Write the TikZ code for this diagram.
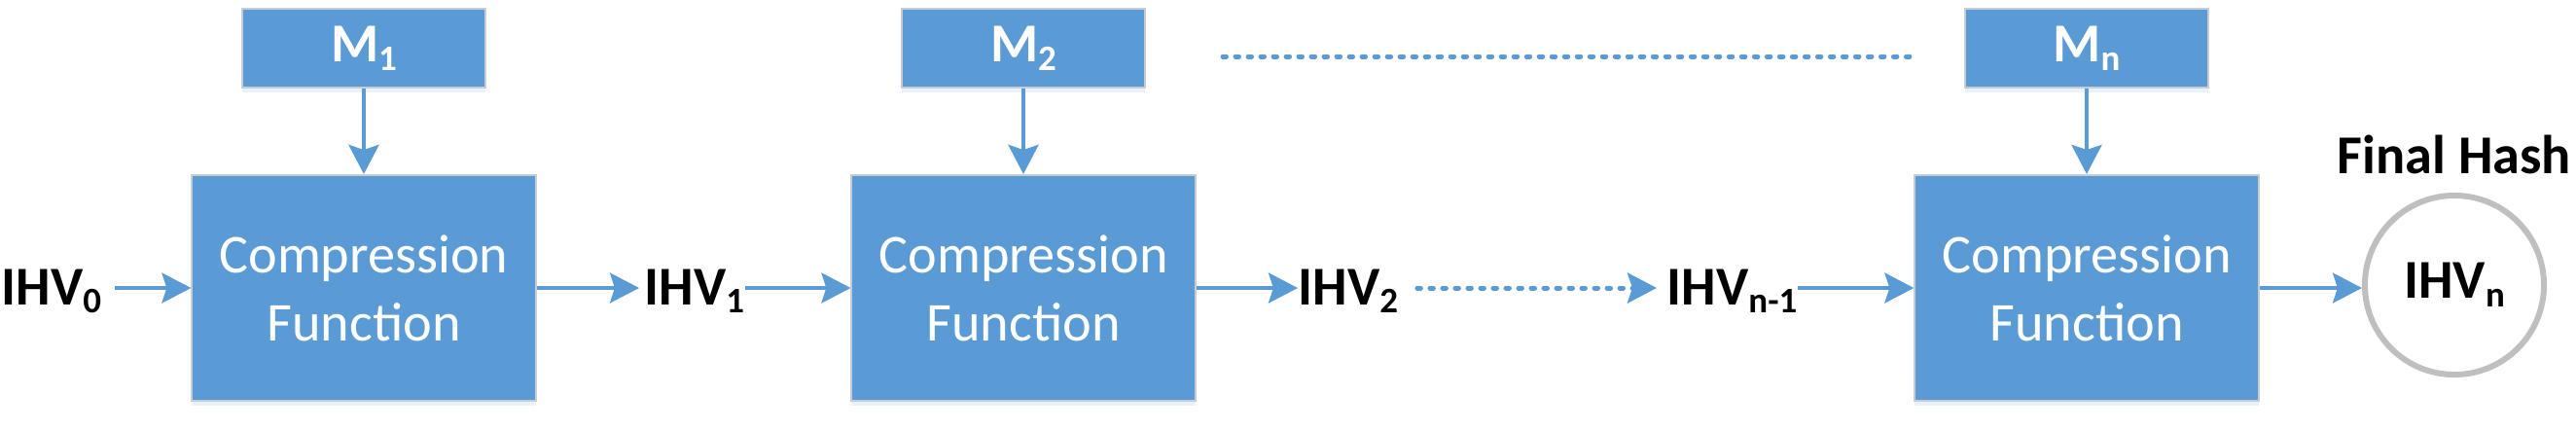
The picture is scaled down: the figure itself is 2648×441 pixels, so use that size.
\documentclass[tikz,border=0pt]{standalone}
\usepackage{fontspec}
\setmainfont{Carlito}
\usetikzlibrary{arrows.meta,shadows}
\definecolor{hashblue}{HTML}{5B9BD5}
\definecolor{boxedge}{HTML}{C8CDD4}
\definecolor{ringgray}{HTML}{BFBFBF}
\newcommand{\lowsub}[1]{\raisebox{-2.5pt}{\fontsize{10.5}{12}\selectfont #1}}
\begin{document}
\begin{tikzpicture}[x=0.01cm, y=-0.01cm,
		every node/.style={font=\fontsize{16}{20}\selectfont},
		compbox/.style={fill=hashblue, draw=boxedge, line width=0.02cm, text=white, align=center,
			minimum width=3.53cm, minimum height=2.32cm, inner sep=0pt,
			drop shadow={shadow xshift=0cm, shadow yshift=-0.05cm, fill=hashblue!25, opacity=0.5}},
		msgbox/.style={compbox, minimum width=2.5cm, minimum height=0.81cm, font=\fontsize{16}{20}\selectfont\bfseries},
		ihv/.style={anchor=base west, inner sep=0pt, font=\fontsize{16}{20}\selectfont\bfseries},
		flow/.style={draw=hashblue, line width=0.037cm, -{Stealth[length=0.3cm, width=0.31cm, inset=0.05cm]}},
		dots/.style={draw=hashblue, line width=0.05cm, line cap=round, dash pattern=on 0.035cm off 0.095cm}]
		\useasboundingbox (0,0) rectangle (2648,441);
		\node[msgbox] (m1) at (374,49.5) {M\lowsub{1}};
		\node[msgbox] (m2) at (1052,49.5) {M\lowsub{2}};
		\node[msgbox] (mn) at (2145,49.5) {M\lowsub{n}};
		\node[compbox] (c1) at (374,296) {Compression\\Function};
		\node[compbox] (c2) at (1052,296) {Compression\\Function};
		\node[compbox] (c3) at (2145,296) {Compression\\Function};
		\node[ihv] (ihv0) at (1,313) {IHV\lowsub{0}};
		\node[ihv] (ihv1) at (662,313) {IHV\lowsub{1}};
		\node[ihv] (ihv2) at (1334,313) {IHV\lowsub{2}};
		\node[ihv] (ihvn1) at (1713,313) {IHV\lowsub{n-1}};
		\node[circle, draw=ringgray, fill=white, line width=0.06cm, minimum size=1.84cm, inner sep=0pt,
			font=\fontsize{16}{20}\selectfont\bfseries] (ihvn) at (2523,293) {IHV\lowsub{n}};
		\node[anchor=base, font=\fontsize{16}{20}\selectfont\bfseries] (final) at (2523,178) {Final Hash};
		\coordinate (dotsL) at (1257,58);
		\coordinate (dotsR) at (1965,58);
		\draw[flow] (m1) -- (c1);
		\draw[flow] (m2) -- (c2);
		\draw[flow] (mn) -- (c3);
		\draw[flow, shorten <=0.13cm] (ihv0.east |- c1.west) -- (c1.west);
		\draw[flow, shorten >=0.05cm] (c1.east) -- (ihv1.west |- c1.east);
		\draw[flow] (ihv1.east |- c2.west) -- (c2.west);
		\draw[flow] (c2.east) -- (ihv2.west |- c2.east);
		\draw[dots, -{Stealth[length=0.3cm, width=0.31cm, inset=0.05cm]}, shorten <=0.19cm, shorten >=0.1cm]
			(ihv2.east |- c2.east) -- (ihvn1.west |- c2.east);
		\draw[flow] (ihvn1.east |- c3.west) -- (c3.west);
		\draw[flow] (c3.east) -- (ihvn.west |- c3.east);
		\draw[dots] (dotsL) -- (dotsR);
	\end{tikzpicture}
\end{document}
